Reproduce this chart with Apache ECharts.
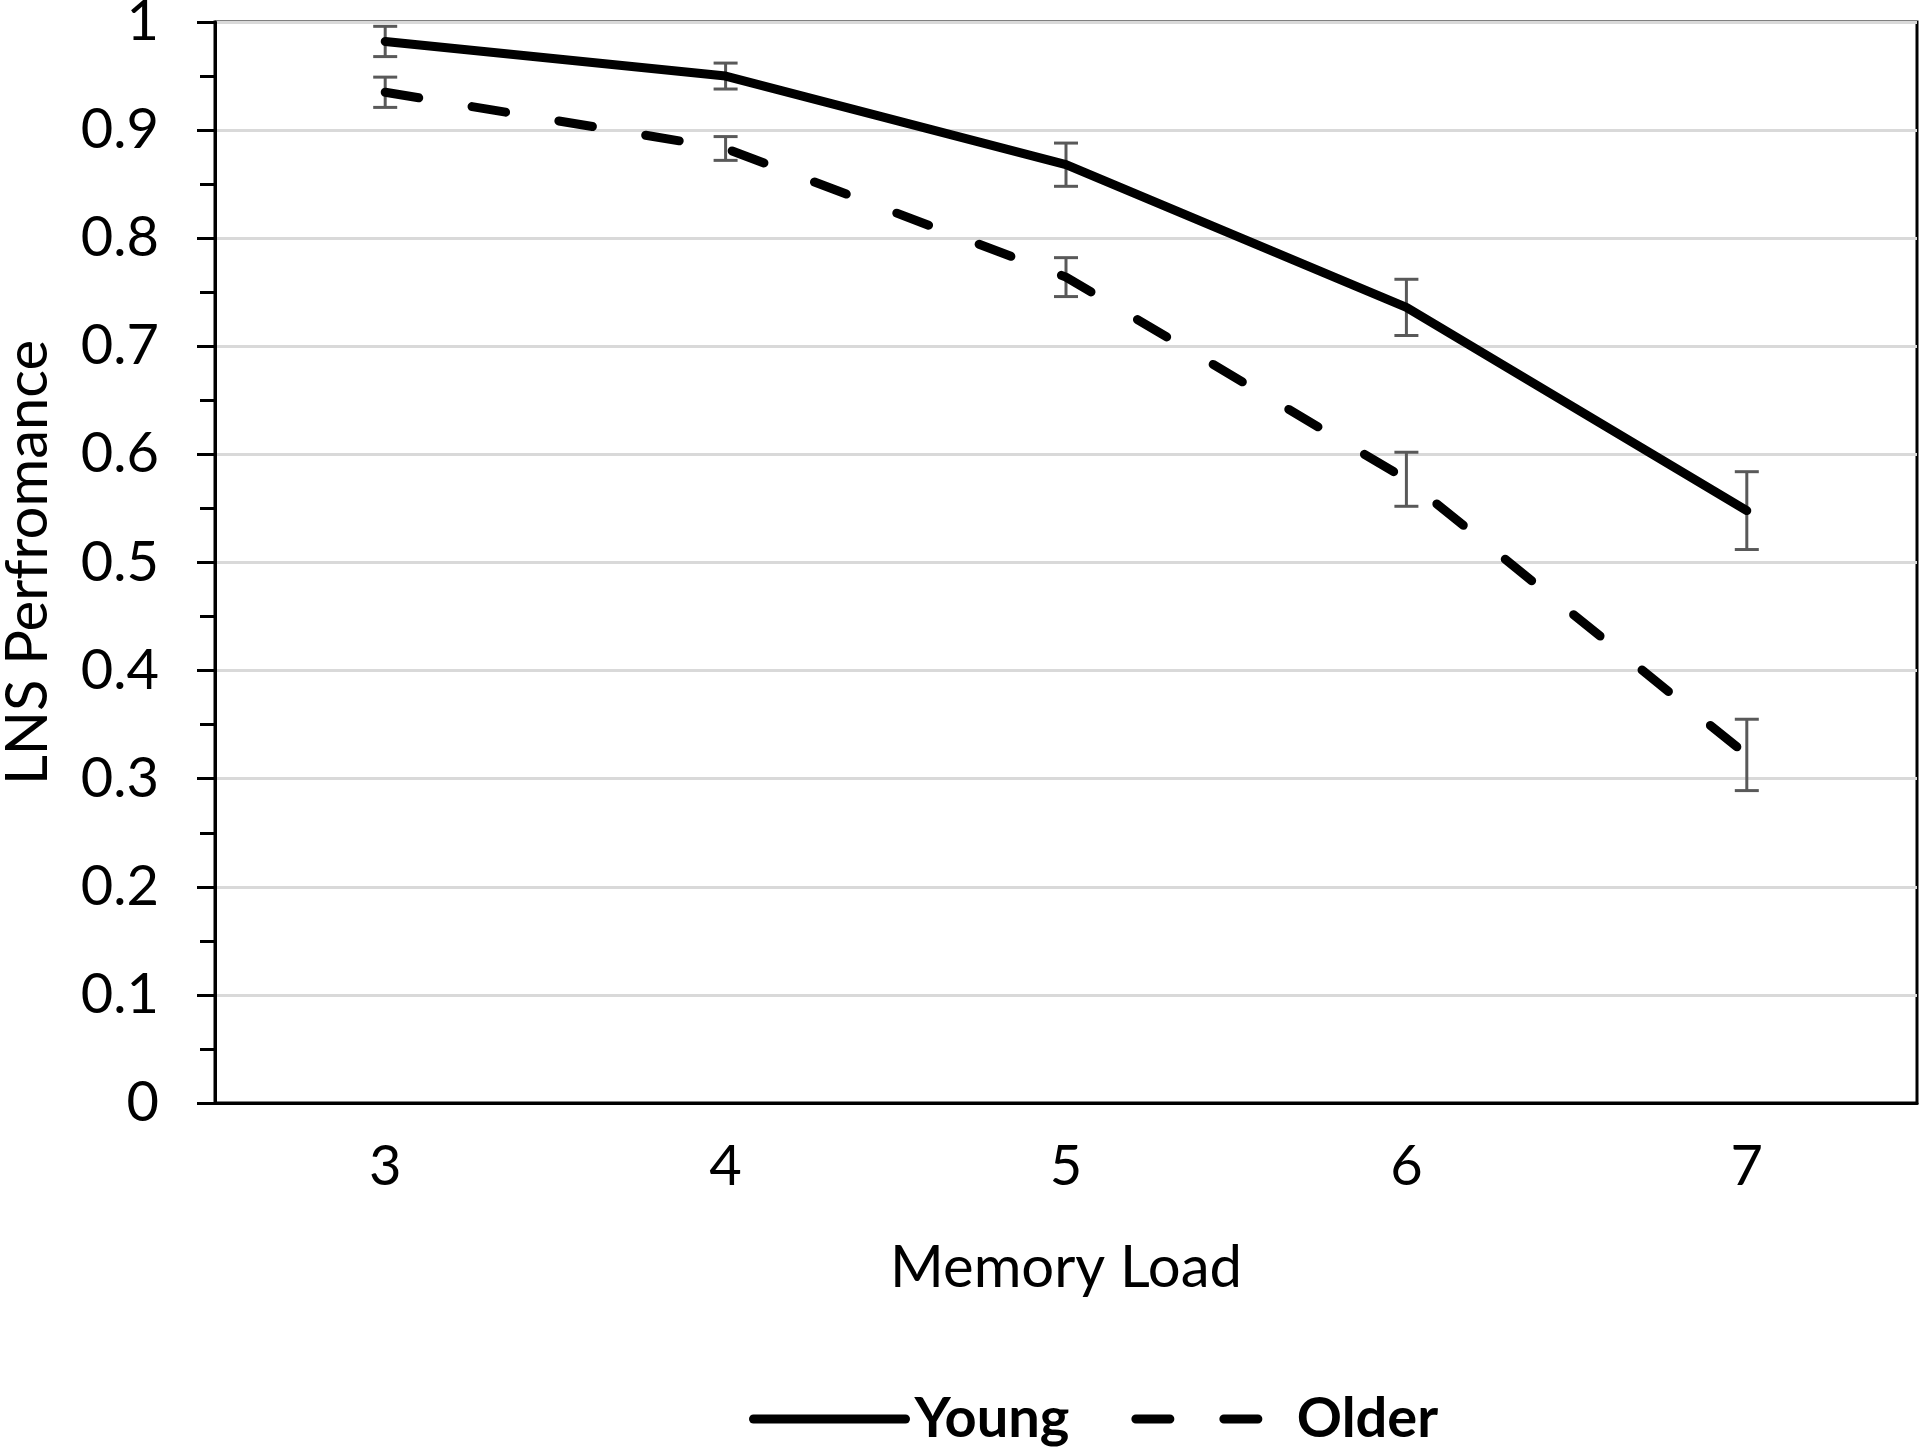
<!DOCTYPE html>
<html>
<head>
<meta charset="utf-8">
<script src="https://cdn.jsdelivr.net/npm/echarts@6/dist/echarts.min.js"></script>
<style>
html,body{margin:0;padding:0;background:#fff;}
#chart{width:1920px;height:1449px;}
</style>
</head>
<body>
<div id="chart"></div>
<script>
const categories = ['3', '4', '5', '6', '7'];
const youngMean = [0.982, 0.950, 0.868, 0.736, 0.548];
const youngErr  = [0.014, 0.012, 0.020, 0.026, 0.036];
const olderMean = [0.935, 0.883, 0.764, 0.577, 0.322];
const olderErr  = [0.014, 0.011, 0.018, 0.025, 0.033];
const yTicks = [0, 0.1, 0.2, 0.3, 0.4, 0.5, 0.6, 0.7, 0.8, 0.9, 1];

const FONT = 'Lato';

function errData(mean, err) {
  return mean.map((m, i) => [i, m - err[i], m + err[i]]);
}

function renderErr(params, api) {
  const x = api.value(0);
  const lo = api.coord([x, api.value(1)]);
  const hi = api.coord([x, api.value(2)]);
  const half = 12;
  const st = { stroke: '#595959', lineWidth: 3 };
  return {
    type: 'group',
    children: [
      { type: 'line', shape: { x1: lo[0], y1: lo[1], x2: hi[0], y2: hi[1] }, style: st },
      { type: 'line', shape: { x1: lo[0] - half, y1: lo[1], x2: lo[0] + half, y2: lo[1] }, style: st },
      { type: 'line', shape: { x1: hi[0] - half, y1: hi[1], x2: hi[0] + half, y2: hi[1] }, style: st }
    ]
  };
}

const chart = echarts.init(document.getElementById('chart'));
chart.setOption({
  backgroundColor: '#fff',
  animation: false,
  textStyle: { fontFamily: FONT },
  grid: {
    left: 215, right: 3, top: 22, bottom: 346,
    containLabel: false, outerBoundsMode: 'none',
    show: true, borderColor: '#000', borderWidth: 3, backgroundColor: 'transparent'
  },
  legend: {
    data: ['Young', 'Older'],
    left: 744,
    top: 1386,
    itemWidth: 152,
    itemHeight: 30,
    itemGap: 62,
    itemStyle: { opacity: 0, borderWidth: 0 },
    lineStyle: { width: 9, cap: 'round', opacity: 1 },
    textStyle: { fontFamily: FONT, fontWeight: 'bold', fontSize: 56, color: '#000', padding: [0, 0, 0, 4] }
  },
  xAxis: {
    type: 'category',
    data: categories,
    boundaryGap: true,
    name: 'Memory Load',
    nameLocation: 'middle',
    nameGap: 136,
    nameTextStyle: { fontFamily: FONT, fontSize: 58, color: '#000' },
    axisLine: { show: true, lineStyle: { color: '#000', width: 3 } },
    axisTick: { show: false },
    axisLabel: { margin: 36, fontFamily: FONT, fontSize: 56, color: '#000' },
    splitLine: { show: false }
  },
  yAxis: {
    type: 'value',
    min: 0, max: 1, interval: 0.1,
    name: 'LNS Perfromance',
    nameLocation: 'middle',
    nameGap: 158,
    nameTextStyle: { fontFamily: FONT, fontSize: 58, color: '#000' },
    axisLine: { show: true, lineStyle: { color: '#000', width: 3 } },
    axisTick: { show: true, inside: false, length: 18, lineStyle: { color: '#000', width: 3 } },
    minorTick: { show: true, splitNumber: 2, length: 15, lineStyle: { color: '#000', width: 3 } },
    axisLabel: {
      margin: 56, fontFamily: FONT, fontSize: 56, color: '#000',
      formatter: v => {
        const t = yTicks.find(k => Math.abs(k - v) < 1e-9);
        return String(t !== undefined ? t : v);
      }
    },
    splitLine: { show: true, lineStyle: { color: '#d9d9d9', width: 3 } },
    minorSplitLine: { show: false }
  },
  series: [
    {
      name: 'YoungErr', type: 'custom', renderItem: renderErr,
      data: errData(youngMean, youngErr), encode: { x: 0, y: [1, 2] }, z: 1, silent: true
    },
    {
      name: 'OlderErr', type: 'custom', renderItem: renderErr,
      data: errData(olderMean, olderErr), encode: { x: 0, y: [1, 2] }, z: 1, silent: true
    },
    {
      name: 'Young', type: 'line', data: youngMean,
      symbol: 'none', showSymbol: false, z: 3,
      lineStyle: { color: '#000', width: 9, type: 'solid', cap: 'round', join: 'round' },
      itemStyle: { color: '#000' }
    },
    {
      name: 'Older', type: 'line', data: olderMean,
      symbol: 'none', showSymbol: false, z: 3,
      lineStyle: { color: '#000', width: 9, type: [34, 54], cap: 'round', join: 'round' },
      itemStyle: { color: '#000' }
    }
  ]
});
</script>
</body>
</html>
